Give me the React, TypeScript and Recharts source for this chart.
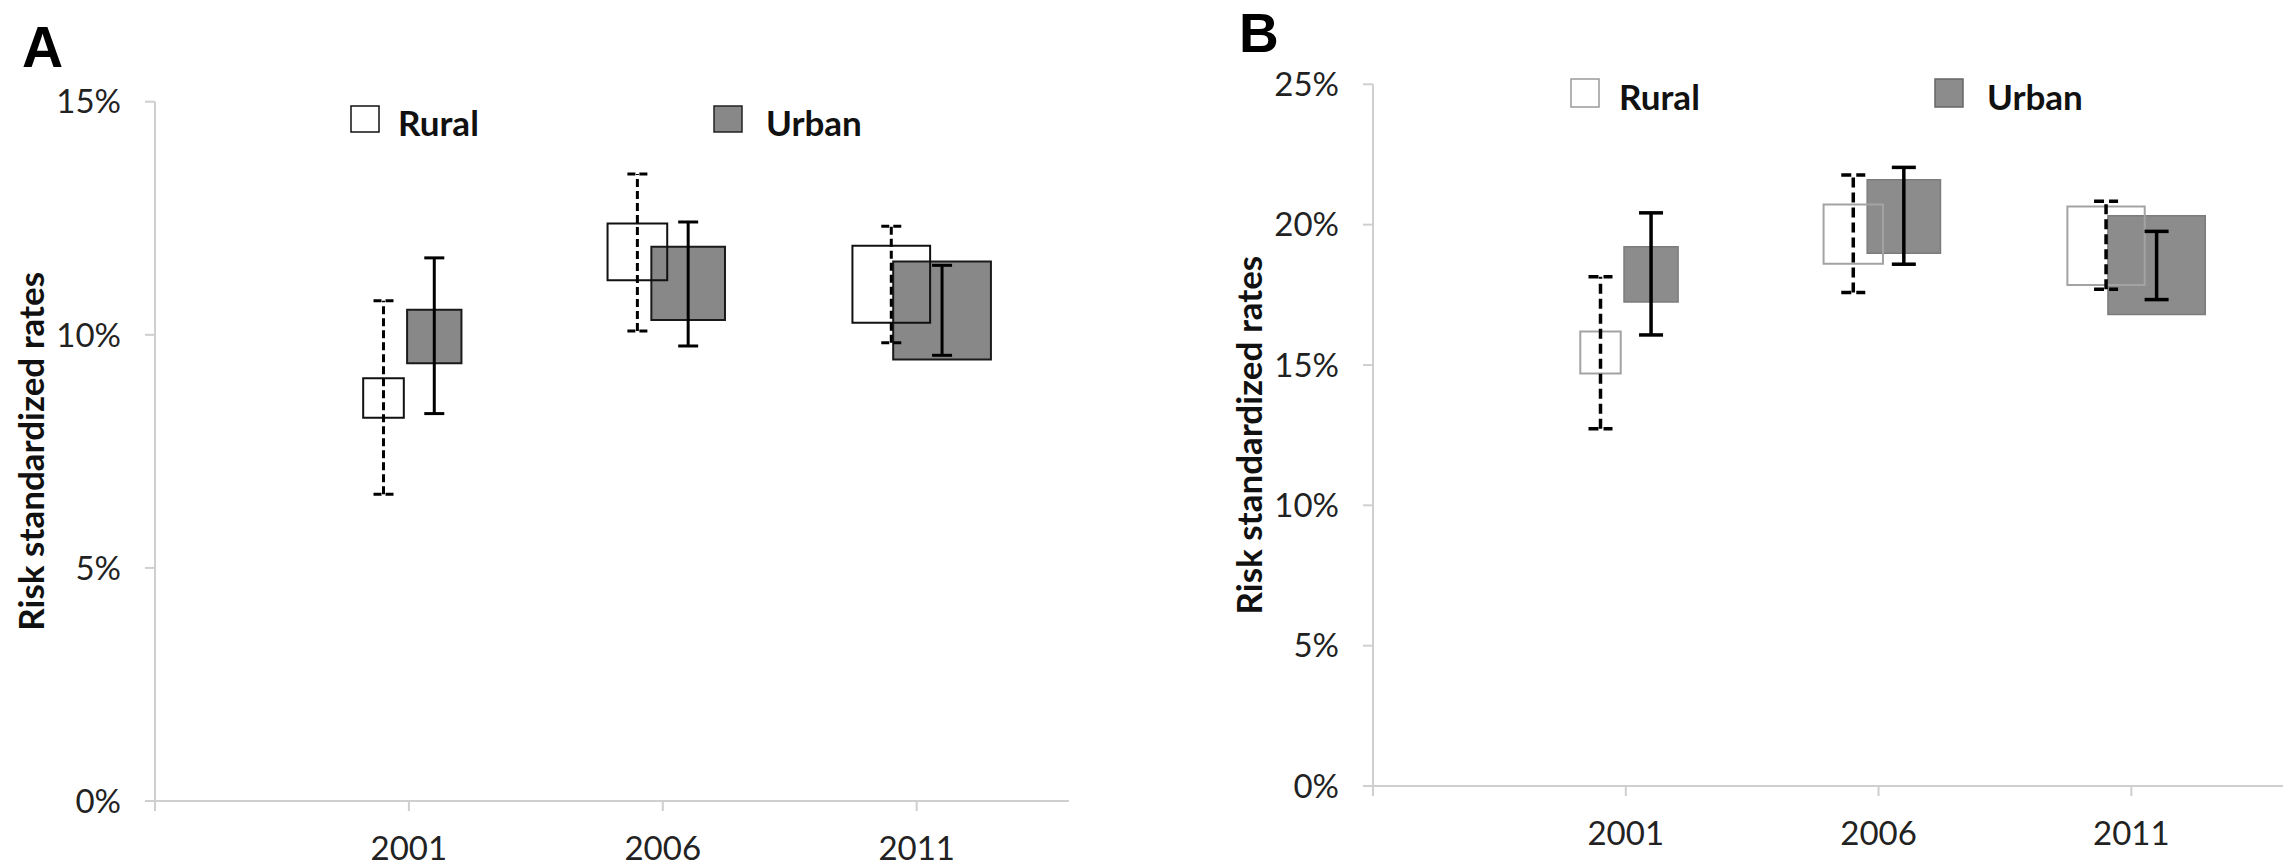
import React from 'react'
import { ComposedChart, XAxis, YAxis, Scatter, ErrorBar, ReferenceArea, Label } from 'recharts'

const years = ['2001', '2006', '2011']
const yearPos = [1, 2, 3]
const legendItems = ['Rural', 'Urban']

// relative box widths (category units)
const ruralWeight = [0.16, 0.235, 0.306]
const urbanWeight = [0.214, 0.29, 0.385]

// Panel A (%)
const ruralBoxLowA = [8.22, 11.17, 10.26]
const ruralBoxHighA = [9.07, 12.39, 11.91]
const ruralCiLowA = [6.58, 10.08, 9.83]
const ruralCiHighA = [10.73, 13.45, 12.33]
const urbanBoxLowA = [9.39, 10.32, 9.47]
const urbanBoxHighA = [10.54, 11.89, 11.57]
const urbanCiLowA = [8.31, 9.76, 9.56]
const urbanCiHighA = [11.65, 12.42, 11.49]
const ticksA = [0, 5, 10, 15]

// Panel B (%)
const ruralBoxLowB = [14.7, 18.61, 17.85]
const ruralBoxHighB = [16.19, 20.72, 20.65]
const ruralCiLowB = [12.73, 17.58, 17.7]
const ruralCiHighB = [18.14, 21.77, 20.83]
const urbanBoxLowB = [17.24, 18.98, 16.8]
const urbanBoxHighB = [19.21, 21.6, 20.32]
const urbanCiLowB = [16.07, 18.59, 17.33]
const urbanCiHighB = [20.42, 22.04, 19.76]
const ticksB = [0, 5, 10, 15, 20, 25]

const FONT = 'Lato, "Open Sans", sans-serif'
const AXIS = '#cfcfcf'

function makeBoxes(low: number[], high: number[], weight: number[], shift: number) {
  return years.map((_, i) => ({
    x1: yearPos[i] + shift - weight[i] / 2,
    x2: yearPos[i] + shift + weight[i] / 2,
    y1: low[i],
    y2: high[i],
  }))
}

function makeBars(lo: number[], hi: number[], shift: number) {
  return years.map((_, i) => ({
    x: yearPos[i] + shift,
    y: (lo[i] + hi[i]) / 2,
    err: (hi[i] - lo[i]) / 2,
  }))
}

function axisTitle(x: number) {
  // eslint-disable-next-line @typescript-eslint/no-explicit-any
  return (props: any) => {
    const vb = props.viewBox
    const cy = vb.y + vb.height / 2
    return (
      <text
        x={x}
        y={cy}
        transform={`rotate(-90, ${x}, ${cy})`}
        textAnchor="middle"
        dominantBaseline="central"
        fontFamily={FONT}
        fontWeight={700}
        fontSize={35}
        fill="#111"
      >
        Risk standardized rates
      </text>
    )
  }
}

interface PanelProps {
  left: number
  width: number
  marginTop: number
  marginRight: number
  yWidth: number
  xHeight: number
  yMax: number
  yTicks: number[]
  titleX: number
  rural: { boxLow: number[]; boxHigh: number[]; ciLow: number[]; ciHigh: number[] }
  urban: { boxLow: number[]; boxHigh: number[]; ciLow: number[]; ciHigh: number[] }
  ruralStroke: string
  urbanFill: string
  urbanStroke: string
  urbanStrokeWidth: number
  dash: string
  barWidth: number
  capWidth: number
}

function Panel(p: PanelProps) {
  const ruralBoxes = makeBoxes(p.rural.boxLow, p.rural.boxHigh, ruralWeight, -0.1)
  const urbanBoxes = makeBoxes(p.urban.boxLow, p.urban.boxHigh, urbanWeight, 0.1)
  const ruralBars = makeBars(p.rural.ciLow, p.rural.ciHigh, -0.1)
  const urbanBars = makeBars(p.urban.ciLow, p.urban.ciHigh, 0.1)

  return (
    <div style={{ position: 'absolute', left: p.left, top: 0 }}>
      <ComposedChart
        width={p.width}
        height={866}
        margin={{ top: p.marginTop, right: p.marginRight, bottom: 0, left: 0 }}
      >
        <XAxis
          type="number"
          dataKey="x"
          domain={[0, 3.6]}
          ticks={[0, 1, 2, 3]}
          interval={0}
          allowDataOverflow
          tickFormatter={(v: number) => years[v - 1] ?? ''}
          axisLine={{ stroke: AXIS, strokeWidth: 2 }}
          tickLine={{ stroke: AXIS, strokeWidth: 2 }}
          tickSize={10}
          tickMargin={26}
          height={p.xHeight}
          tick={{ fontSize: 33, fill: '#222', fontFamily: FONT }}
        />
        <YAxis
          type="number"
          domain={[0, p.yMax]}
          ticks={p.yTicks}
          interval={0}
          allowDataOverflow
          tickFormatter={(v: number) => `${v}%`}
          axisLine={{ stroke: AXIS, strokeWidth: 2 }}
          tickLine={{ stroke: AXIS, strokeWidth: 2 }}
          tickSize={10}
          tickMargin={24}
          width={p.yWidth}
          tick={{ fontSize: 33, fill: '#222', fontFamily: FONT }}
        >
          <Label content={axisTitle(p.titleX)} />
        </YAxis>
        {urbanBoxes.map((b, i) => (
          <ReferenceArea
            key={`u${i}`}
            {...b}
            fill={p.urbanFill}
            fillOpacity={1}
            stroke={p.urbanStroke}
            strokeWidth={p.urbanStrokeWidth}
            ifOverflow="visible"
          />
        ))}
        {ruralBoxes.map((b, i) => (
          <ReferenceArea
            key={`r${i}`}
            {...b}
            fill="none"
            stroke={p.ruralStroke}
            strokeWidth={2}
            ifOverflow="visible"
          />
        ))}
        <Scatter data={ruralBars} dataKey="y" shape={() => <g />} isAnimationActive={false}>
          <ErrorBar
            dataKey="err"
            direction="y"
            width={p.capWidth}
            stroke="#000"
            strokeWidth={p.barWidth}
            strokeDasharray={p.dash}
            isAnimationActive={false}
          />
        </Scatter>
        <Scatter data={urbanBars} dataKey="y" shape={() => <g />} isAnimationActive={false}>
          <ErrorBar
            dataKey="err"
            direction="y"
            width={p.capWidth}
            stroke="#000"
            strokeWidth={p.barWidth}
            isAnimationActive={false}
          />
        </Scatter>
      </ComposedChart>
    </div>
  )
}

function Overlay() {
  const legendA = [
    { sq: 351, tx: 398, fill: '#fff', stroke: '#111' },
    { sq: 714, tx: 766, fill: '#888', stroke: '#222' },
  ]
  const legendB = [
    { sq: 1571, tx: 1619, fill: '#fff', stroke: '#9a9a9a' },
    { sq: 1935, tx: 1987, fill: '#8c8c8c', stroke: '#666' },
  ]
  return (
    <svg width={2283} height={866} style={{ position: 'absolute', left: 0, top: 0, pointerEvents: 'none' }}>
      <text x={22} y={67} fontFamily='"Liberation Sans", Arial, sans-serif' fontWeight={700} fontSize={57} fill="#000">
        A
      </text>
      <text x={1239} y={52} fontFamily='"Liberation Sans", Arial, sans-serif' fontWeight={700} fontSize={55} fill="#000">
        B
      </text>
      {legendItems.map((name, i) => (
        <g key={`la${i}`}>
          <rect x={legendA[i].sq} y={106} width={28} height={26} fill={legendA[i].fill} stroke={legendA[i].stroke} strokeWidth={1.5} />
          <text x={legendA[i].tx} y={136} fontFamily={FONT} fontWeight={700} fontSize={35} fill="#111">
            {name}
          </text>
        </g>
      ))}
      {legendItems.map((name, i) => (
        <g key={`lb${i}`}>
          <rect x={legendB[i].sq} y={79} width={28} height={28} fill={legendB[i].fill} stroke={legendB[i].stroke} strokeWidth={1.5} />
          <text x={legendB[i].tx} y={110} fontFamily={FONT} fontWeight={700} fontSize={35} fill="#111">
            {name}
          </text>
        </g>
      ))}
    </svg>
  )
}

export default function App() {
  return (
    <div style={{ position: 'absolute', left: 0, top: 0, width: 2283, height: 866, background: '#fff', overflow: 'hidden' }}>
      <Panel
        left={0}
        width={1100}
        marginTop={101.7}
        marginRight={31}
        yWidth={155}
        xHeight={65}
        yMax={15}
        yTicks={ticksA}
        titleX={30}
        rural={{ boxLow: ruralBoxLowA, boxHigh: ruralBoxHighA, ciLow: ruralCiLowA, ciHigh: ruralCiHighA }}
        urban={{ boxLow: urbanBoxLowA, boxHigh: urbanBoxHighA, ciLow: urbanCiLowA, ciHigh: urbanCiHighA }}
        ruralStroke="#111"
        urbanFill="#888888"
        urbanStroke="#1a1a1a"
        urbanStrokeWidth={2}
        dash="8 4"
        barWidth={3}
        capWidth={10}
      />
      <Panel
        left={1180}
        width={1103}
        marginTop={84.3}
        marginRight={0}
        yWidth={193}
        xHeight={80}
        yMax={25}
        yTicks={ticksB}
        titleX={68}
        rural={{ boxLow: ruralBoxLowB, boxHigh: ruralBoxHighB, ciLow: ruralCiLowB, ciHigh: ruralCiHighB }}
        urban={{ boxLow: urbanBoxLowB, boxHigh: urbanBoxHighB, ciLow: urbanCiLowB, ciHigh: urbanCiHighB }}
        ruralStroke="#a3a3a3"
        urbanFill="#8c8c8c"
        urbanStroke="#7c7c7c"
        urbanStrokeWidth={1.5}
        dash="10 5"
        barWidth={3.5}
        capWidth={12}
      />
      <Overlay />
    </div>
  )
}
